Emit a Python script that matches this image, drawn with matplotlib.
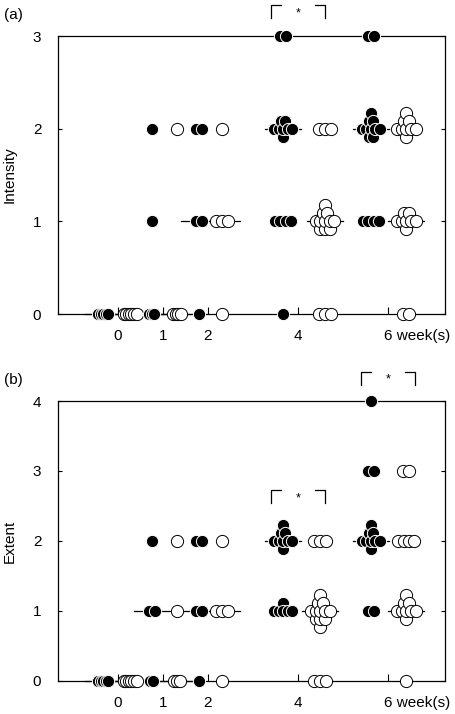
import matplotlib

matplotlib.use("Agg")
import matplotlib.pyplot as plt
import matplotlib.transforms as mtransforms
import numpy as np

plt.rcParams["font.family"] = ["Liberation Sans", "DejaVu Sans"]

# number of animals at each score (index = score), one row per week
weeks = [0, 1, 2, 4, 6]
week_labels = ["0", "1", "2", "4", "6 week(s)"]

intensity_filled = [[5, 0, 0, 0], [3, 1, 1, 0], [1, 2, 2, 0], [1, 4, 8, 2], [0, 4, 10, 2]]
intensity_open = [[6, 0, 0, 0], [4, 0, 1, 0], [1, 3, 1, 0], [3, 11, 3, 0], [2, 8, 9, 0]]
extent_filled = [[5, 0, 0, 0, 0], [2, 2, 1, 0, 0], [1, 2, 2, 0, 0], [0, 6, 9, 0, 0], [0, 2, 9, 2, 1]]
extent_open = [[6, 0, 0, 0, 0], [3, 1, 1, 0, 0], [1, 3, 1, 0, 0], [3, 12, 3, 0, 0], [1, 9, 4, 2, 0]]

# significant week comparisons (*)
intensity_sig = [4]
extent_sig = [4, 6]

W, H = 456, 714
fig = plt.figure(figsize=(W / 100, H / 100), dpi=100)

D = 8.8   # marker diameter in points


def cluster(n, tight):
    """pixel offsets for n overlapping markers at one score"""
    if n == 0:
        return []
    if tight:
        sp = 2.6
        return [((i - (n - 1) / 2) * sp, 0) for i in range(n)]
    if n <= 4:
        sp = 6.0 if n <= 3 else 5.3
        return [((i - (n - 1) / 2) * sp, 0) for i in range(n)]
    sp, dy = 4.6, 8.0
    rows = {0: min(n, 5)}
    order = [1, -1, 1, 2, -1, -1, -2, 2, -2, -2]
    for r in order[: max(0, n - 5)]:
        rows[r] = rows.get(r, 0) + 1
    pts = []
    for r in sorted(rows, key=lambda r: -abs(r)):
        k = rows[r]
        pts += [((i - (k - 1) / 2) * sp, r * dy) for i in range(k)]
    return pts


def medians(counts):
    vals = np.repeat(np.arange(len(counts)), counts)
    return np.median(vals)


def panel(rect, filled, opened, ymax, ylabel, tag, sig, fshift, oshift, label_y):
    ax = fig.add_axes(rect)
    ax.set_xlim(-1.333, 7.267)
    ax.set_ylim(0, ymax)
    for s in ax.spines.values():
        s.set_linewidth(0.9)
    ax.set_yticks(range(ymax + 1))
    ax.set_xticks(weeks)
    ax.set_xticklabels(week_labels)
    ax.tick_params(axis="y", direction="in", length=3, width=0.8, right=True,
                   pad=12, labelsize=11)
    ax.tick_params(axis="x", direction="in", length=5, width=0.8, pad=11, labelsize=11)
    lab = ax.get_xticklabels()[-1]
    lab.set_ha("left")
    lab.set_transform(lab.get_transform() + mtransforms.ScaledTranslation(-4 / 100, 0, fig.dpi_scale_trans))

    p0 = ax.transData.transform((0, 0))
    p1 = ax.transData.transform((1, 1))
    sx, sy = p1[0] - p0[0], p1[1] - p0[1]

    for wi, wk in enumerate(weeks):
        for counts, shift, face, edge in ((filled[wi], fshift[wi], "black", "white"),
                                          (opened[wi], oshift[wi], "white", "black")):
            cx = wk + shift
            m = medians(counts)
            ax.plot([cx - 0.4, cx + 0.4], [m, m], color="black", lw=0.9,
                    zorder=2, clip_on=False)
            for score, n in enumerate(counts):
                pts = cluster(n, tight=(score == 0 and wk <= 1))
                pts = sorted(pts, key=lambda p: p[0])
                for dx, dyp in pts:
                    ax.plot(cx + dx / sx, score + dyp / sy, "o", ms=D, mfc=face,
                            mec=edge, mew=0.7, zorder=3, clip_on=False)

    # significance brackets
    for wk in sig:
        yb = label_y[wk]
        yt = yb + 13 / sy
        x0, x1 = wk - 0.6, wk + 0.6
        arm = 0.22
        ax.plot([x0, x0, x0 + arm], [yb, yt, yt], color="black", lw=0.9, clip_on=False)
        ax.plot([x1 - arm, x1, x1], [yt, yt, yb], color="black", lw=0.9, clip_on=False)
        ax.text(wk, yt - 2 / sy, "*", ha="center", va="top", fontsize=9)

    top_px = (1 - rect[1] - rect[3]) * H
    bot_px = (1 - rect[1]) * H
    fig.text(10 / W, 1 - (top_px + bot_px) / 2 / H, ylabel, rotation=90,
             ha="center", va="center", fontsize=11)
    fig.text(4 / W, 1 - (top_px - 21) / H, tag, ha="left", va="center", fontsize=11)
    return ax


fshift = [-0.33, -0.25, -0.2, -0.33, -0.38]
oshift_a = [0.27, 0.31, 0.31, 0.6, 0.41]
oshift_b = [0.27, 0.31, 0.31, 0.5, 0.41]

panel([58 / W, 1 - 314 / H, 387 / W, 278 / H], intensity_filled, intensity_open, 3,
      "Intensity", "(a)", intensity_sig, fshift, oshift_a, {4: 3.19})
panel([58 / W, 1 - 681 / H, 387 / W, 280 / H], extent_filled, extent_open, 4,
      "Extent", "(b)", extent_sig, fshift, oshift_b, {4: 2.54, 6: 4.23})

fig.savefig("out.png", dpi=100, facecolor="white")
